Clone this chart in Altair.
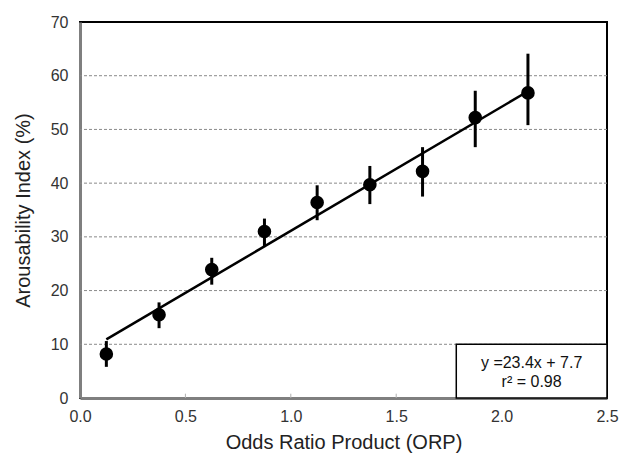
import altair as alt
import pandas as pd

# Data
orp = [0.125, 0.375, 0.625, 0.875, 1.125, 1.375, 1.625, 1.875, 2.125]
arousability = [8.2, 15.5, 23.9, 31.0, 36.4, 39.7, 42.2, 52.2, 56.8]
err_low = [5.8, 13.0, 21.1, 28.1, 33.1, 36.1, 37.5, 46.7, 50.8]
err_high = [10.6, 17.8, 26.1, 33.4, 39.6, 43.2, 46.7, 57.2, 64.1]
fit_x = [0.125, 2.125]
fit_y = [10.9, 57.1]
grid_y = [10, 20, 30, 40, 50, 60]
x_ticks = [0.5, 1.0, 1.5, 2.0]
eq_lines = ["y =23.4x + 7.7", "r\u00b2 = 0.98"]
eq_line_y = [6.6, 2.9]
box_x = [1.785, 2.5]
box_y = [0, 10]

FONT = "Liberation Sans"

pts = pd.DataFrame({"x": orp, "y": arousability, "lo": err_low, "hi": err_high})
fit = pd.DataFrame({"x": fit_x, "y": fit_y})
grid = pd.DataFrame({"y": grid_y})
ticks = pd.DataFrame({"x": x_ticks})
eq = pd.DataFrame({"t": eq_lines, "y": eq_line_y, "x": [sum(box_x) / 2] * 2})
box = pd.DataFrame({"x": [box_x[0]], "x2": [box_x[1]], "y": [box_y[0]], "y2": [box_y[1]]})

xs = alt.Scale(domain=[0, 2.5], nice=False, zero=False)
ys = alt.Scale(domain=[0, 70], nice=False, zero=False)

xaxis = alt.Axis(values=[0, 0.5, 1.0, 1.5, 2.0, 2.5], format=".1f", ticks=False,
                 labelFlush=False, labelPadding=10,
                 title="Odds Ratio Product (ORP)", titlePadding=8, grid=False)
yaxis = alt.Axis(values=[0, 10, 20, 30, 40, 50, 60, 70], format="d", ticks=False,
                 labelFlush=False, labelPadding=12,
                 title="Arousability Index (%)", titlePadding=17, grid=False)

gridl = alt.Chart(grid).mark_rule(color="#8a8a8a", strokeDash=[3, 2], strokeWidth=1).encode(
    y=alt.Y("y:Q", scale=ys, axis=yaxis)
)

tickl = alt.Chart(ticks).mark_rule(color="#b0b0b0", strokeWidth=1).encode(
    x=alt.X("x:Q", scale=xs, axis=xaxis),
    y=alt.datum(0),
    y2=alt.datum(0.8),
)

boxm = alt.Chart(box).mark_rect(fill="white", stroke="black", strokeWidth=1.5).encode(
    x=alt.X("x:Q", scale=xs), x2="x2:Q",
    y=alt.Y("y:Q", scale=ys), y2="y2:Q",
)

eqm = alt.Chart(eq).mark_text(font=FONT, fontSize=16, color="#111").encode(
    x=alt.X("x:Q", scale=xs), y=alt.Y("y:Q", scale=ys), text="t:N"
)

line = alt.Chart(fit).mark_line(color="black", strokeWidth=2.5).encode(
    x=alt.X("x:Q", scale=xs), y=alt.Y("y:Q", scale=ys)
)

errb = alt.Chart(pts).mark_rule(color="black", strokeWidth=3).encode(
    x=alt.X("x:Q", scale=xs), y=alt.Y("lo:Q", scale=ys), y2="hi:Q"
)

dots = alt.Chart(pts).mark_circle(color="black", opacity=1, size=185).encode(
    x=alt.X("x:Q", scale=xs), y=alt.Y("y:Q", scale=ys)
)

chart = alt.layer(gridl, tickl, line, errb, dots, boxm, eqm).properties(
    width=527, height=376,
    autosize=alt.AutoSizeParams(type="none"),
    padding={"left": 80, "top": 22, "right": 13, "bottom": 56},
).configure_view(
    stroke="black", strokeWidth=2
).configure_axis(
    labelFont=FONT, labelFontSize=16, labelColor="#333333",
    titleFont=FONT, titleFontSize=20, titleFontWeight="normal", titleColor="#222222",
    domainColor="#7f7f7f", domainWidth=3,
)

chart.save("out.html", embed_options={"renderer": "svg", "actions": False})
